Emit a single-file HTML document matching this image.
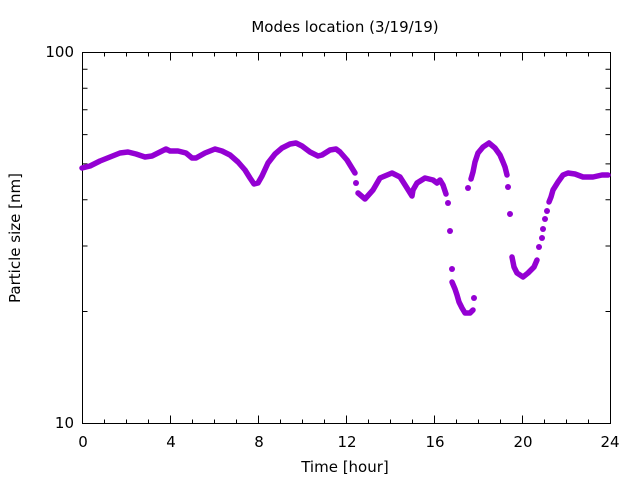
<!DOCTYPE html>
<html><head><meta charset="utf-8"><style>
html,body{margin:0;padding:0;background:#fff;}
svg{display:block;font-family:"DejaVu Sans","Liberation Sans",sans-serif;}
</style></head><body>
<svg width="640" height="480" viewBox="0 0 640 480" xmlns="http://www.w3.org/2000/svg">
<rect width="640" height="480" fill="#fff"/>
<g stroke="#000" stroke-width="1" fill="none">
<rect x="82.5" y="52.5" width="528" height="371"/>
<path d="M82.5 423.5h9M610.5 423.5h-9M82.5 52.5h9M610.5 52.5h-9
M82.5 311.5h5M610.5 311.5h-5M82.5 246h5M610.5 246h-5M82.5 199.7h5M610.5 199.7h-5M82.5 163.9h5M610.5 163.9h-5
M82.5 134.6h5M610.5 134.6h-5M82.5 109.8h5M610.5 109.8h-5M82.5 88.3h5M610.5 88.3h-5M82.5 69.3h5M610.5 69.3h-5"/>
<path d="M170.5 423.5v-8M258.5 423.5v-8M346.5 423.5v-8M434.5 423.5v-8M522.5 423.5v-8
M170.5 52.5v8M258.5 52.5v8M346.5 52.5v8M434.5 52.5v8M522.5 52.5v8
M104.5 423.5v-4M126.5 423.5v-4M148.5 423.5v-4M192.5 423.5v-4M214.5 423.5v-4M236.5 423.5v-4M280.5 423.5v-4M302.5 423.5v-4M324.5 423.5v-4M368.5 423.5v-4M390.5 423.5v-4M412.5 423.5v-4M456.5 423.5v-4M478.5 423.5v-4M500.5 423.5v-4M544.5 423.5v-4M566.5 423.5v-4M588.5 423.5v-4
M104.5 52.5v4M126.5 52.5v4M148.5 52.5v4M192.5 52.5v4M214.5 52.5v4M236.5 52.5v4M280.5 52.5v4M302.5 52.5v4M324.5 52.5v4M368.5 52.5v4M390.5 52.5v4M412.5 52.5v4M456.5 52.5v4M478.5 52.5v4M500.5 52.5v4M544.5 52.5v4M566.5 52.5v4M588.5 52.5v4"/>
</g>
<g font-size="15" fill="#000">
<text x="74" y="428" text-anchor="end">10</text>
<text x="74" y="57" text-anchor="end">100</text>
<g text-anchor="middle">
<text x="83" y="447">0</text><text x="171" y="447">4</text><text x="259" y="447">8</text><text x="347" y="447">12</text><text x="435" y="447">16</text><text x="523" y="447">20</text><text x="610" y="447">24</text>
<text x="345" y="472">Time [hour]</text>
<text x="345" y="32">Modes location (3/19/19)</text>
<text transform="translate(20,238) rotate(-90)">Particle size [nm]</text>
</g></g>
<g stroke="#9400d3" stroke-width="5.5" fill="none" stroke-linecap="round" stroke-linejoin="round">
<polyline points="82,168 90,166 100,161 110,157 120,153 128,152 136,154 145,157 152,156 160,152 166,149 170,151 178,151 186,153 192,158 196,158 205,153 215,149 222,151 230,155 238,162 245,170 250,178 254,184 258,183 262,176 268,163 275,154 282,148 290,144 296,143 302,146 310,152 318,156 322,155 330,150 336,149 340,152 347,160 355,173"/>
<polyline points="358,193 365,199 373,190 380,178 392,173 400,177 407,188 412,196 413,190 417,183 425,178 433,180 437,183 440,180 443,185 446,194"/>
<polyline points="452,282 455,289 457,295 459,302 462,308 465,313 470,313 473,310"/>
<polyline points="471,179 473,172 475,162 478,153 483,147 489,143 495,148 500,155 503,162 505,167 507,175"/>
<polyline points="512,257 514,267 517,273 523,277 528,273 534,267 537,260"/>
<polyline points="549,202 551,197 553,190 558,182 563,175 568,173 575,174 583,177 593,177 602,175 608,175"/>
</g>
<g fill="#9400d3">
<circle cx="356" cy="183" r="3"/><circle cx="448" cy="203" r="3"/><circle cx="450" cy="231" r="3"/><circle cx="452" cy="269" r="3"/>
<circle cx="474" cy="298" r="3"/><circle cx="468" cy="188" r="3"/><circle cx="508" cy="187" r="3"/><circle cx="510" cy="214" r="3"/>
<circle cx="539" cy="247" r="3"/><circle cx="542" cy="238" r="3"/><circle cx="543" cy="229" r="3"/><circle cx="545" cy="219" r="3"/><circle cx="547" cy="211" r="3"/>
</g>
</svg>
</body></html>
